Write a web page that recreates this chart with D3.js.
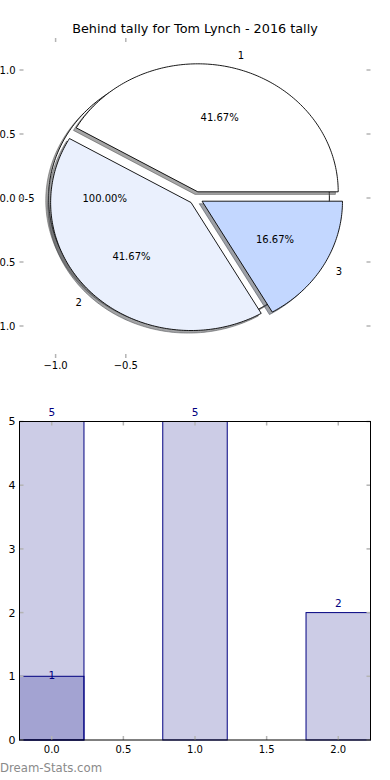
<!DOCTYPE html>
<html>
<head>
<meta charset="utf-8">
<script src="https://cdn.jsdelivr.net/npm/d3@7"></script>
<style>
  body { margin: 0; background: #fff; }
  text { font-family: "DejaVu Sans", sans-serif; }
</style>
</head>
<body>
<svg id="chart" width="390" height="780"></svg>
<script>
// ---- data ----
const title = "Behind tally for Tom Lynch - 2016 tally";
const pieLabels = ["1", "2", "3"];
const pieValues = [5, 5, 2];
const outerLabels = ["0-5"];
const outerValues = [12];
const pieXTicks = [-1.0, -0.5];
const pieYTicks = [1.0, 0.5, 0.0, -0.5, -1.0];

const barCats = [0, 1, 2];
const barValues = [5, 5, 2];
const subCats = [0];
const subValues = [1];
const barXTicks = [0, 0.5, 1, 1.5, 2];
const barYTicks = [0, 1, 2, 3, 4, 5];

// ---- styles ----
const pieColors = ["#ffffff", "#eaf0fd", "#c3d7ff"];
const outerColors = ["#ffffff"];
const tickColor = "#b4b4b4";
const navy = "#000080";
const EXPLODE = 0.05;

const svg = d3.select("#chart");
const left = 19.5, right = 370.5;

// ---- pie axes ----
const px = d3.scaleLinear([-1.25, 1.25], [left + 1, right + 1]);
const py = d3.scaleLinear([-1.25, 1.25], [358, 38]);

svg.append("text")
  .attr("x", 195).attr("y", 33)
  .attr("text-anchor", "middle")
  .style("font-size", "12.8px")
  .text(title);

const line = d3.line();
const fmt = d3.format(".1f");

function wedgePts(t1, t2, ex, ox = 0, oy = 0) {
  const mid = (t1 + t2) / 2;
  const cx = ex * Math.cos(mid) + ox, cy = ex * Math.sin(mid) + oy;
  const full = Math.abs(t2 - t1 - 2 * Math.PI) < 1e-9;
  const n = Math.max(8, Math.ceil((t2 - t1) * 180 / Math.PI));
  const pts = full ? [] : [[px(cx), py(cy)]];
  for (let i = 0; i <= n; i++) {
    const t = t1 + (t2 - t1) * i / n;
    pts.push([px(cx + Math.cos(t)), py(cy + Math.sin(t))]);
  }
  return line(pts) + "Z";
}

function shade(c) {
  const k = d3.rgb(c);
  return d3.rgb(k.r * 0.3, k.g * 0.3, k.b * 0.3).toString();
}

const wedgeLayer = svg.append("g");
const pieTextLayer = svg.append("g");

function drawPie(values, labels, colors) {
  const arcs = d3.pie().sort(null).value(d => d)(values);
  const g = wedgeLayer.append("g");
  // shadows first
  arcs.forEach((a, i) => {
    g.append("path")
      .attr("d", wedgePts(a.startAngle, a.endAngle, EXPLODE, -0.02, -0.02))
      .attr("fill", shade(colors[i])).attr("fill-opacity", 0.5)
      .attr("stroke", shade(colors[i])).attr("stroke-opacity", 0.5);
  });
  arcs.forEach((a, i) => {
    g.append("path")
      .attr("d", wedgePts(a.startAngle, a.endAngle, EXPLODE))
      .attr("fill", colors[i])
      .attr("stroke", "#000").attr("stroke-width", 0.9);
  });
  const total = d3.sum(values);
  arcs.forEach((a, i) => {
    const mid = (a.startAngle + a.endAngle) / 2;
    const c = Math.cos(mid), s = Math.sin(mid);
    const lx = (1.1 + EXPLODE) * c, ly = (1.1 + EXPLODE) * s;
    pieTextLayer.append("text")
      .attr("x", px(lx)).attr("y", py(ly))
      .attr("dy", "0.36em")
      .attr("text-anchor", lx > 0 ? "start" : "end")
      .style("font-size", "10px")
      .text(labels[i]);
    pieTextLayer.append("text")
      .attr("x", px((0.6 + EXPLODE) * c)).attr("y", py((0.6 + EXPLODE) * s))
      .attr("dy", "0.36em")
      .attr("text-anchor", "middle")
      .style("font-size", "10px")
      .text(d3.format(".2f")(values[i] / total * 100) + "%");
  });
}

drawPie(outerValues, outerLabels, outerColors);
drawPie(pieValues, pieLabels, pieColors);

// pie axis ticks (no spines)
const pieAx = svg.append("g").attr("stroke", tickColor).attr("stroke-width", 1.5);
pieXTicks.forEach(t => {
  pieAx.append("line").attr("x1", px(t)).attr("x2", px(t)).attr("y1", 38).attr("y2", 42);
  pieAx.append("line").attr("x1", px(t)).attr("x2", px(t)).attr("y1", 358).attr("y2", 354);
});
pieYTicks.forEach(t => {
  pieAx.append("line").attr("x1", left).attr("x2", left + 4).attr("y1", py(t)).attr("y2", py(t));
  pieAx.append("line").attr("x1", right).attr("x2", right - 4).attr("y1", py(t)).attr("y2", py(t));
});
pieXTicks.forEach(t => {
  svg.append("text").attr("x", px(t)).attr("y", 369)
    .attr("text-anchor", "middle").style("font-size", "10px")
    .text(fmt(t).replace("-", "\u2212"));
});
pieYTicks.forEach(t => {
  svg.append("text").attr("x", left - 4).attr("y", py(t)).attr("dy", "0.36em")
    .attr("text-anchor", "end").style("font-size", "10px")
    .text(fmt(t).replace("-", "\u2212"));
});

// ---- bar axes ----
const top2 = 421.5, bottom2 = 740;
const bx = d3.scaleLinear([-0.225, 2.225], [left, right]);
const by = d3.scaleLinear([0, 5], [bottom2, top2]);
const BW = 0.45;

svg.append("g").selectAll("rect").data(barCats).join("rect")
  .attr("x", d => bx(d - BW / 2))
  .attr("width", d => bx(d + BW / 2) - bx(d - BW / 2))
  .attr("y", (d, i) => by(barValues[i]))
  .attr("height", (d, i) => by(0) - by(barValues[i]))
  .attr("fill", navy).attr("fill-opacity", 0.2)
  .attr("stroke", navy).attr("stroke-width", 1);

svg.append("g").selectAll("rect").data(subCats).join("rect")
  .attr("x", d => bx(d - BW / 2))
  .attr("width", d => bx(d + BW / 2) - bx(d - BW / 2))
  .attr("y", (d, i) => by(subValues[i]))
  .attr("height", (d, i) => by(0) - by(subValues[i]))
  .attr("fill", navy).attr("fill-opacity", 0.2)
  .attr("stroke", navy).attr("stroke-width", 1);

barCats.forEach((c, i) => {
  svg.append("text").attr("x", bx(c)).attr("y", by(barValues[i] + 0.09))
    .attr("text-anchor", "middle").attr("fill", navy).style("font-size", "10.5px")
    .text(barValues[i]);
});
subCats.forEach((c, i) => {
  svg.append("text").attr("x", bx(c)).attr("y", by(subValues[i] - 0.05))
    .attr("text-anchor", "middle").attr("fill", navy).style("font-size", "10.5px")
    .text(subValues[i]);
});

// ticks
const barAx = svg.append("g").attr("stroke", tickColor).attr("stroke-width", 1.5);
barXTicks.forEach(t => {
  barAx.append("line").attr("x1", bx(t)).attr("x2", bx(t)).attr("y1", bottom2).attr("y2", bottom2 - 4);
  barAx.append("line").attr("x1", bx(t)).attr("x2", bx(t)).attr("y1", top2).attr("y2", top2 + 4);
});
barYTicks.forEach(t => {
  barAx.append("line").attr("x1", left).attr("x2", left + 4).attr("y1", by(t)).attr("y2", by(t));
  barAx.append("line").attr("x1", right).attr("x2", right - 4).attr("y1", by(t)).attr("y2", by(t));
});

svg.append("rect")
  .attr("x", left).attr("y", top2)
  .attr("width", right - left).attr("height", bottom2 - top2)
  .attr("fill", "none").attr("stroke", "#000").attr("stroke-width", 1);

barXTicks.forEach(t => {
  svg.append("text").attr("x", bx(t)).attr("y", 753)
    .attr("text-anchor", "middle").style("font-size", "10px")
    .text(fmt(t));
});
barYTicks.forEach(t => {
  svg.append("text").attr("x", left - 4).attr("y", by(t)).attr("dy", "0.36em")
    .attr("text-anchor", "end").style("font-size", "11px")
    .text(t);
});

// watermark
svg.append("text").attr("x", 0).attr("y", 772)
  .attr("fill", "#8a8a8a").style("font-size", "11.7px")
  .text("Dream-Stats.com");
</script>
</body>
</html>
